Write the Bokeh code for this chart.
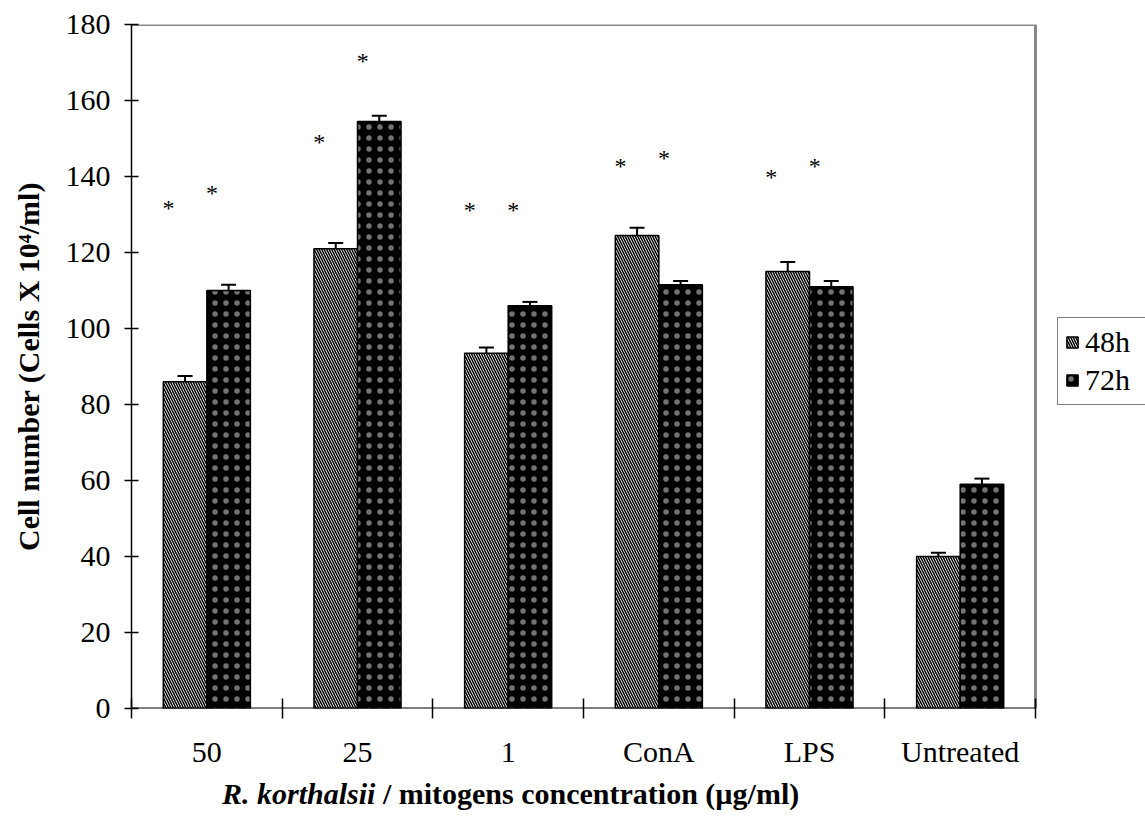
from bokeh.plotting import figure
from bokeh.layouts import column
from bokeh.models import (ColumnDataSource, Range1d, FixedTicker, Whisker, TeeHead,
                          Legend, LegendItem, Div)
from bokeh.core.properties import value
from bokeh.embed import file_html
from bokeh.resources import INLINE

# ---------------- data ----------------
categories = ["50", "25", "1", "ConA", "LPS", "Untreated"]
vals_48h = [86, 121, 93.5, 124.5, 115, 40]
vals_72h = [110, 154.5, 106, 111.5, 111, 59]
err_48h = [1.5, 1.5, 1.5, 2, 2.5, 1]
err_72h = [1.5, 1.5, 1, 1, 1.5, 1.5]
# significance asterisk heights (None = no marker)
star_48h = [133, 150.5, 132.6, 144.2, 141.1, None]
star_72h = [137, 171.6, 132.6, 146.3, 144.2, None]
y_ticks = [0, 20, 40, 60, 80, 100, 120, 140, 160, 180]
Y_MAX = 180

FONT = "Liberation Serif"
FS = "30px"
BAR_W = 0.289
OFF = 0.1445

n = len(categories)
centers = [i + 0.5 for i in range(n)]
x48 = [c - OFF for c in centers]
x72 = [c + OFF for c in centers]

src48 = ColumnDataSource(dict(x=x48, top=vals_48h,
                              upper=[v + e for v, e in zip(vals_48h, err_48h)],
                              lower=[v - e for v, e in zip(vals_48h, err_48h)]))
src72 = ColumnDataSource(dict(x=x72, top=vals_72h,
                              upper=[v + e for v, e in zip(vals_72h, err_72h)],
                              lower=[v - e for v, e in zip(vals_72h, err_72h)]))

# plot box for the data is 904 px wide; the frame continues to the right edge
# so the legend (drawn inside the frame) can sit right of the plot box
W, LEFT, PLOT_W = 1145, 131, 904
x_end = n * (W - LEFT) / PLOT_W

p = figure(width=W, height=776, x_range=Range1d(0, x_end), y_range=Range1d(0, Y_MAX),
           output_backend="svg", toolbar_location=None,
           min_border_left=LEFT, min_border_right=0, min_border_top=24,
           min_border_bottom=68)
p.background_fill_color = "white"
p.border_fill_color = "white"
p.outline_line_color = None
p.xgrid.visible = False
p.ygrid.visible = False

# gray plot-box border (top and right)
p.line(x=[0, n, n], y=[Y_MAX, Y_MAX, 0], line_color="#888888", line_width=3)

r48 = p.vbar(x="x", top="top", width=BAR_W, source=src48, fill_color="white",
             line_color="black", line_width=1.5, hatch_pattern="\\",
             hatch_color="black", hatch_scale=5, hatch_weight=1.5)
r72 = p.vbar(x="x", top="top", width=BAR_W, source=src72, fill_color="black",
             line_color="black", line_width=1.5, hatch_pattern=".",
             hatch_color="white", hatch_scale=11, hatch_weight=0, hatch_alpha=0.45)

for src in (src48, src72):
    w = Whisker(source=src, base="x", upper="upper", lower="lower",
                line_color="black", line_width=2,
                upper_head=TeeHead(size=15, line_width=2, line_color="black"),
                lower_head=TeeHead(size=15, line_width=2, line_color="black"))
    p.add_layout(w)

# x axis line only across the plot box
p.line(x=[0, n], y=[0, 0], line_color="black", line_width=2)

# asterisks
sx, sy = [], []
for i in range(n):
    if star_48h[i] is not None:
        sx.append(x48[i] - 0.11); sy.append(star_48h[i])
    if star_72h[i] is not None:
        sx.append(x72[i] - 0.11); sy.append(star_72h[i])
p.text(x=sx, y=sy, text=["*"] * len(sx), text_font=value(FONT), text_font_size="24px",
       text_align="center", text_baseline="middle", text_color="black", y_offset=5)

# axes
p.yaxis.ticker = FixedTicker(ticks=y_ticks)
p.yaxis.major_tick_in = 7
p.yaxis.major_tick_out = 7
p.yaxis.minor_tick_line_color = None
p.yaxis.axis_line_color = "black"
p.yaxis.axis_line_width = 1.5
p.yaxis.major_tick_line_width = 1.5
p.yaxis.major_label_text_font = FONT
p.yaxis.major_label_text_font_size = FS
p.yaxis.major_label_text_color = "black"
p.yaxis.major_label_standoff = 14
p.yaxis.axis_label = "Cell number (Cells X 10\u2074/ml)"
p.yaxis.axis_label_text_font = FONT
p.yaxis.axis_label_text_font_size = FS
p.yaxis.axis_label_text_font_style = "bold"
p.yaxis.axis_label_text_color = "black"
p.yaxis.axis_label_standoff = 18

p.xaxis.ticker = FixedTicker(ticks=centers, minor_ticks=list(range(n + 1)))
p.xaxis.major_label_overrides = {c: lab for c, lab in zip(centers, categories)}
p.xaxis.major_tick_in = 0
p.xaxis.major_tick_out = 0
p.xaxis.minor_tick_in = 10
p.xaxis.minor_tick_out = 10
p.xaxis.minor_tick_line_color = "black"
p.xaxis.minor_tick_line_width = 1.5
p.xaxis.axis_line_color = None
p.xaxis.major_label_text_font = FONT
p.xaxis.major_label_text_font_size = FS
p.xaxis.major_label_text_color = "black"
p.xaxis.major_label_standoff = 16

legend = Legend(items=[LegendItem(label="48h", renderers=[r48]),
                       LegendItem(label="72h", renderers=[r72])],
                location=(926, 303))
legend.border_line_color = "black"
legend.border_line_width = 1
legend.label_text_font = FONT
legend.label_text_font_size = FS
legend.label_text_color = "black"
legend.glyph_width = 14
legend.glyph_height = 14
legend.label_height = 30
legend.label_width = 64
legend.label_standoff = 6
legend.spacing = 4
legend.padding = 7
legend.margin = 0
p.add_layout(legend, "center")

# x-axis title with mixed italic / upright parts
title = Div(text="<b><i>R. korthalsii</i> / mitogens concentration (\u00b5g/ml)</b>",
            width=900, height=48, margin=0,
            styles={"font-family": FONT, "font-size": FS, "color": "black",
                    "padding-left": "222px", "padding-top": "3px",
                    "line-height": "1", "white-space": "nowrap"})

layout = column(p, title, spacing=0)
open("out.html", "w").write(file_html(layout, INLINE))
